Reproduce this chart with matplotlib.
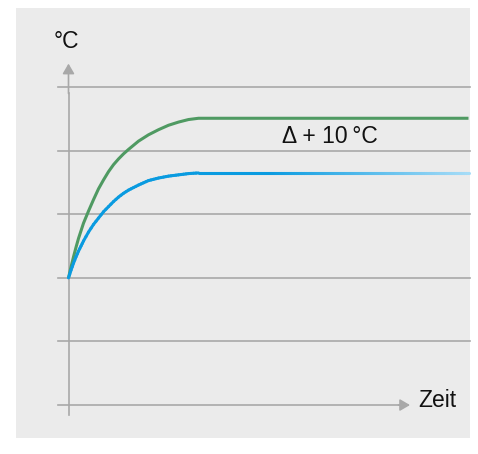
import numpy as np
import matplotlib
matplotlib.use("Agg")
import matplotlib.pyplot as plt
from matplotlib.patches import Rectangle, FancyArrowPatch
from matplotlib.collections import LineCollection
from matplotlib.colors import to_rgb

plt.rcParams['font.family'] = ['Liberation Sans', 'DejaVu Sans']

# time (arbitrary units) and temperature level (grid steps)
green_t = [0, 0.25, 0.5, 0.75, 1, 1.25, 1.5, 2, 2.5, 3, 3.5, 4, 4.5, 5, 5.5, 6,
           7, 8, 9, 10, 11, 12, 13, 40]
green_v = [2.0, 2.17, 2.33, 2.48, 2.62, 2.74, 2.86, 3.05, 3.23, 3.40, 3.54, 3.67,
           3.78, 3.87, 3.95, 4.02, 4.15, 4.25, 4.33, 4.40, 4.45, 4.49, 4.51, 4.51]

blue_t = [0, 0.25, 0.5, 0.75, 1, 1.25, 1.5, 2, 2.5, 3, 3.5, 4, 4.5, 5, 5.5, 6,
          7, 8, 9, 10, 11, 12, 13, 40]
blue_v = [2.0, 2.12, 2.23, 2.33, 2.42, 2.50, 2.58, 2.72, 2.84, 2.94, 3.04, 3.12,
          3.20, 3.27, 3.33, 3.38, 3.46, 3.53, 3.57, 3.60, 3.62, 3.64, 3.65, 3.65]

grid_levels = [0, 1, 2, 3, 4, 5]
delta_label = "Δ + 10\u2009°C"
y_label = "°C"
x_label = "Zeit"

GRID = "#a8a8a8"
GREEN = "#4f9a62"
BLUE = "#0a9be0"
BLUE_LIGHT = "#a6dcf7"

fig = plt.figure(figsize=(4.78, 4.54), dpi=100)
fig.patches.append(Rectangle((16 / 478, 16 / 454), 454 / 478, 430 / 454,
                             transform=fig.transFigure, facecolor="#ebebeb",
                             edgecolor="none", zorder=-10))

ax = fig.add_axes([0, 0, 1, 1])
ax.set_facecolor("none")
ax.set_xlim(-6.85, 40.95)
ax.set_ylim(-0.77, 6.37)
ax.axis("off")

# horizontal grid lines (bottom one is the time axis)
for lv in grid_levels[1:]:
    ax.plot([-1.05, 40.15], [lv, lv], color=GRID, lw=1.2, zorder=1)
ax.plot([-1.05, 33.0], [0, 0], color=GRID, lw=1.2, zorder=1)

# axes with arrows
ax.plot([0, 0], [-0.16, 4.9], color=GRID, lw=1.2, zorder=1)
ax.add_patch(FancyArrowPatch((0, 4.9), (0, 5.37), arrowstyle="-|>,head_length=6,head_width=3.5",
                             color=GRID, lw=1.2, shrinkA=0, shrinkB=0, zorder=1))
ax.add_patch(FancyArrowPatch((33.0, 0), (34.15, 0), arrowstyle="-|>,head_length=6,head_width=3.5",
                             color=GRID, lw=1.2, shrinkA=0, shrinkB=0, zorder=1))

# green curve
ax.plot(green_t, green_v, color=GREEN, lw=2.2, solid_capstyle="butt",
        solid_joinstyle="round", zorder=3)

# blue curve with fading tail
segs, cols = [], []
c0, c1 = np.array(to_rgb(BLUE)), np.array(to_rgb(BLUE_LIGHT))
for i in range(len(blue_t) - 1):
    n = max(2, int((blue_t[i + 1] - blue_t[i]) * 4))
    xs = np.linspace(blue_t[i], blue_t[i + 1], n + 1)
    ys = np.linspace(blue_v[i], blue_v[i + 1], n + 1)
    for j in range(n):
        segs.append([(xs[j], ys[j]), (xs[j + 1], ys[j + 1])])
        xm = 0.5 * (xs[j] + xs[j + 1])
        f = np.clip((xm - 20) / 20, 0, 1)
        cols.append(c0 + (c1 - c0) * f)
ax.add_collection(LineCollection(segs, colors=cols, lw=2.2, capstyle="round", zorder=3))

ax.text(-0.25, 5.61, y_label, fontsize=16.5, ha="center", va="baseline", color="#111111")
ax.text(21.35, 4.12, delta_label, fontsize=16.5, ha="left", va="baseline", color="#111111")
ax.text(34.95, -0.03, x_label, fontsize=16.5, ha="left", va="baseline", color="#111111")

fig.savefig("out.png", dpi=100, facecolor="white")
